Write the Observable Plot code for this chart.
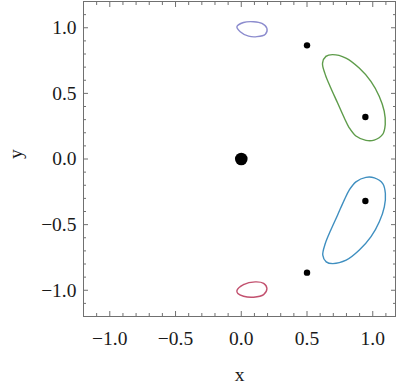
<!DOCTYPE html>
<html><head><meta charset="utf-8">
<script src="https://cdn.jsdelivr.net/npm/d3@7"></script>
<script src="https://cdn.jsdelivr.net/npm/@observablehq/plot@0.6"></script>
<style>body{margin:0;background:#fff}</style>
</head><body><div id="chart"></div>
<script>
// Closed contour curves
const greenX = [0.618, 0.644, 0.694, 0.796, 0.897, 0.986, 1.049, 1.087, 1.095, 1.075, 1.011, 0.948, 0.872, 0.821, 0.783, 0.732, 0.681, 0.639];
const greenY = [0.731, 0.782, 0.795, 0.769, 0.693, 0.592, 0.478, 0.364, 0.263, 0.187, 0.144, 0.142, 0.175, 0.238, 0.314, 0.428, 0.541, 0.643];
const blueX = [0.620, 0.646, 0.696, 0.798, 0.898, 0.987, 1.050, 1.088, 1.096, 1.076, 1.012, 0.948, 0.872, 0.821, 0.783, 0.732, 0.681, 0.639];
const blueY = [-0.733, -0.784, -0.797, -0.771, -0.694, -0.592, -0.478, -0.364, -0.263, -0.187, -0.144, -0.140, -0.174, -0.237, -0.313, -0.428, -0.541, -0.644];
const purpleX = [-0.033, 0.017, 0.094, 0.157, 0.195, 0.183, 0.119, 0.056, -0.008];
const purpleY = [1.008, 1.040, 1.046, 1.033, 0.995, 0.951, 0.932, 0.936, 0.970];
const redX = [-0.033, 0.017, 0.106, 0.170, 0.195, 0.170, 0.094, 0.017, -0.026];
const redY = [-1.002, -0.957, -0.936, -0.947, -0.987, -1.033, -1.053, -1.046, -1.025];

// Points
const primaryX = [0];
const primaryY = [0];
const satX = [0.5, 0.944, 0.944, 0.5];
const satY = [0.866, 0.32, -0.32, -0.866];

// Ticks
const majorTicks = [-1.0, -0.5, 0.0, 0.5, 1.0];
const minorTicksX = [-1.1, -0.9, -0.8, -0.7, -0.6, -0.4, -0.3, -0.2, -0.1, 0.1, 0.2, 0.3, 0.4, 0.6, 0.7, 0.8, 0.9, 1.1];
const minorTicksY = [-1.1, -0.9, -0.8, -0.7, -0.6, -0.4, -0.3, -0.2, -0.1, 0.1, 0.2, 0.3, 0.4, 0.6, 0.7, 0.8, 0.9, 1.1];
const xLabel = "x", yLabel = "y";

const toPts = (xs, ys) => xs.map((x, i) => ({x, y: ys[i]}));
const curves = [
  {pts: toPts(greenX, greenY), color: "#5e9c4a"},
  {pts: toPts(blueX, blueY), color: "#3f8fc0"},
  {pts: toPts(purpleX, purpleY), color: "#8c8cce"},
  {pts: toPts(redX, redY), color: "#c2506e"}
];
const fmt = d3.format(".1f");
const axisCol = "#707070";
const txtCol = "#1a1a1a";
const fs = 19.5;

const marks = [Plot.frame({stroke: axisCol})];
for (const a of ["bottom", "top"]) {
  marks.push(Plot.axisX(majorTicks, {anchor: a, tickSize: -5, fill: "none", stroke: axisCol, label: null}));
  marks.push(Plot.axisX(minorTicksX, {anchor: a, tickSize: -3, fill: "none", stroke: axisCol, label: null}));
}
for (const a of ["left", "right"]) {
  marks.push(Plot.axisY(majorTicks, {anchor: a, tickSize: -5, fill: "none", stroke: axisCol, label: null}));
  marks.push(Plot.axisY(minorTicksY, {anchor: a, tickSize: -3, fill: "none", stroke: axisCol, label: null}));
}
marks.push(Plot.axisX(majorTicks, {anchor: "bottom", tickSize: 0, tickPadding: 15, tickFormat: fmt, fill: txtCol, label: null, fontSize: fs}));
marks.push(Plot.axisY(majorTicks, {anchor: "left", tickSize: 0, tickPadding: 7, tickFormat: fmt, fill: txtCol, label: null, fontSize: fs}));
marks.push(Plot.text([xLabel], {text: d => d, frameAnchor: "bottom", dy: 64, fontSize: fs, fill: txtCol}));
marks.push(Plot.text([yLabel], {text: d => d, frameAnchor: "left", dx: -68, rotate: -90, fontSize: fs, fill: txtCol}));
for (const c of curves) {
  marks.push(Plot.line(c.pts, {x: "x", y: "y", stroke: c.color, strokeWidth: 1.4, curve: "catmull-rom-closed"}));
}
marks.push(Plot.dot(toPts(primaryX, primaryY), {x: "x", y: "y", r: 6.3, fill: "black", stroke: "none"}));
marks.push(Plot.dot(toPts(satX, satY), {x: "x", y: "y", r: 3.2, fill: "black", stroke: "none"}));

const chart = Plot.plot({
  width: 399, height: 386,
  marginLeft: 83, marginRight: 4, marginTop: 1, marginBottom: 70,
  x: {domain: [-1.2, 1.173]},
  y: {domain: [-1.2, 1.2]},
  style: {fontFamily: "'Liberation Serif', 'Times New Roman', serif", fontSize: "19.5px", background: "#fff"},
  marks
});
document.getElementById("chart").appendChild(chart);
</script>
</body></html>
